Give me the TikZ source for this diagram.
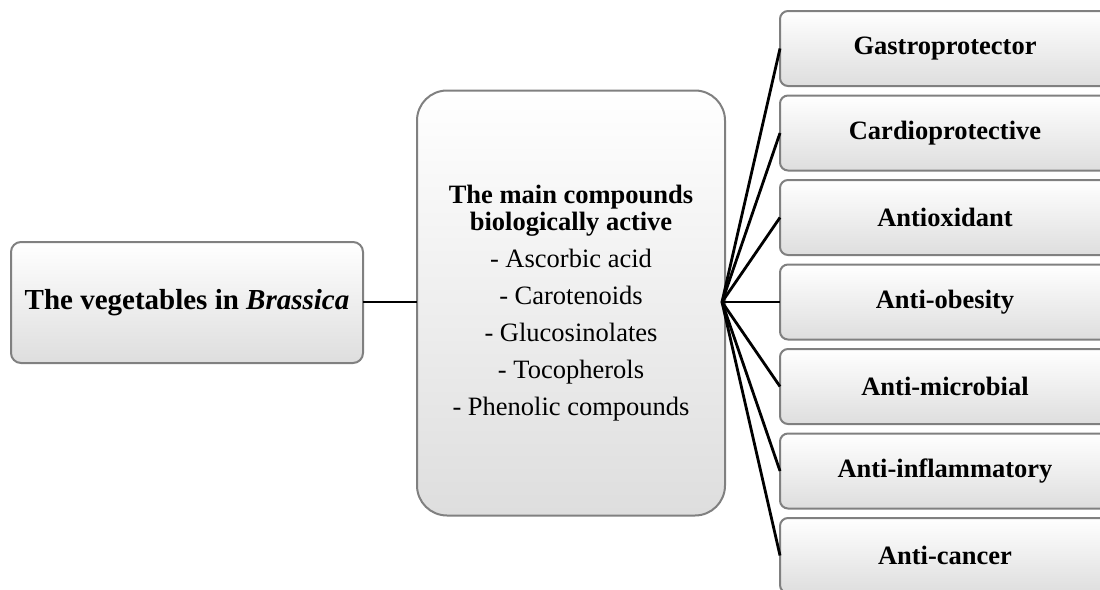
\documentclass[tikz,border=0pt]{standalone}
\usepackage{fontspec}
\setmainfont{Liberation Serif}
\begin{document}
\begin{tikzpicture}[x=1pt,y=-1pt,
  box/.style={draw={rgb,255:red,128;green,128;blue,128}, line width=2pt,
    top color=white, middle color=black!2, bottom color=black!13,
    inner sep=0pt, outer sep=0pt, align=center, text=black},
  leftbox/.style={box, rounded corners=10pt, minimum width=352pt, minimum height=121pt,
    font=\fontsize{29}{34}\selectfont\bfseries},
  midbox/.style={box, rounded corners=30pt, minimum width=308pt, minimum height=425pt,
    font=\fontsize{26.5}{27}\selectfont},
  effbox/.style={box, rounded corners=8pt, minimum width=330pt, minimum height=75pt,
    font=\fontsize{26.5}{30}\selectfont\bfseries},
  conn/.style={draw=black, line width=2.8pt}]
\useasboundingbox (0,0) rectangle (1100,589);
\clip (0,0) rectangle (1100,589);
\node[leftbox] (left) at (187,302.5) {The vegetables in \textit{Brassica}};
\node[midbox] (mid) at (571,303) {\textbf{The main compounds}\\\textbf{biologically active}\\[10pt]
- Ascorbic acid\\[10pt]- Carotenoids\\[10pt]- Glucosinolates\\[10pt]- Tocopherols\\[10pt]- Phenolic compounds};
\node[effbox] (r1) at (945,48.5) {Gastroprotector};
\node[effbox] (r2) at (945,133) {Cardioprotective};
\node[effbox] (r3) at (945,217.5) {Antioxidant};
\node[effbox] (r4) at (945,302) {Anti-obesity};
\node[effbox] (r5) at (945,386.5) {Anti-microbial};
\node[effbox] (r6) at (945,471) {Anti-inflammatory};
\node[effbox] (r7) at (945,555.5) {Anti-cancer};
\coordinate (hub) at (722,302);
\draw[conn] (left.east |- hub) -- (mid.west |- hub);
\foreach \r in {r1,r2,r3,r4,r5,r6,r7} {\draw[conn] (hub) -- (\r.west);}
\end{tikzpicture}
\end{document}
